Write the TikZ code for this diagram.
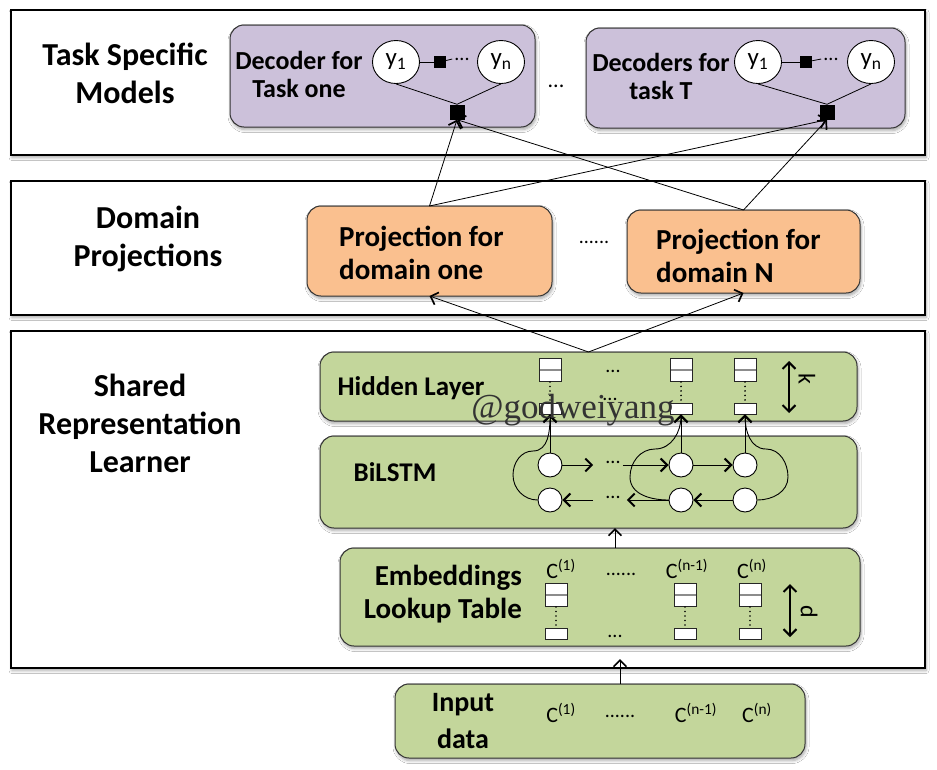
\documentclass[tikz,border=0pt]{standalone}
\usepackage{fontspec}
\setmainfont{Carlito}
\newfontfamily\markfont{Liberation Serif}
\usetikzlibrary{arrows.meta,shadows.blur,shapes.geometric,calc}

\definecolor{lavender}{RGB}{204,193,218}
\definecolor{peach}{RGB}{250,192,143}
\definecolor{sage}{RGB}{195,214,155}

\newcommand\sidefont{\bfseries\fontsize{32}{38}\selectfont}
\newcommand\inboxfont{\bfseries\fontsize{27}{29}\selectfont}
\newcommand\symfont{\fontsize{22}{24}\selectfont}
\newcommand\ysymfont{\fontsize{25}{26}\selectfont}
\newcommand\dotfont{\fontsize{20}{22}\selectfont}

\tikzset{
  softshadow/.style={blur shadow={shadow xshift=1pt, shadow yshift=-2.5pt,
      shadow blur radius=3pt, shadow blur steps=6, shadow opacity=35}},
  panel/.style={rectangle, draw=black, line width=1.6pt, fill=white,
      inner sep=0pt, outer sep=0pt, softshadow},
  roundbox/.style={rectangle, draw=black!80, line width=1pt, rounded corners=14pt,
      inner sep=0pt, outer sep=0pt, softshadow},
  label/.style={font=\inboxfont, align=center, inner sep=0pt},
  sidelabel/.style={font=\sidefont, align=center, inner sep=0pt},
  sym/.style={font=\symfont, inner sep=1pt},
  dotsnode/.style={font=\dotfont, inner sep=2pt},
  ycirc/.style={ellipse, draw=black, line width=0.9pt, fill=white,
      minimum width=47pt, minimum height=43pt, inner sep=0pt, font=\ysymfont},
  factor/.style={rectangle, fill=black, minimum size=12pt, inner sep=0pt},
  bigfactor/.style={rectangle, fill=black, minimum size=15pt, inner sep=0pt},
  cell/.style={circle, draw=black, line width=0.9pt, fill=white,
      minimum size=24pt, inner sep=0pt},
  vtop/.style={rectangle, draw=black!85, line width=0.8pt, fill=white,
      minimum width=22pt, minimum height=23pt, inner sep=0pt,
      path picture={\draw[black!45, line width=1.4pt]
        (path picture bounding box.west) -- (path picture bounding box.east);}},
  vbot/.style={rectangle, draw=black!85, line width=0.8pt, fill=white,
      minimum width=22pt, minimum height=11pt, inner sep=0pt},
  vdots/.style={line width=1.8pt, line cap=round, dash pattern=on 0pt off 4.5pt},
  link/.style={line width=0.8pt},
  arr/.style={line width=0.8pt,
      -{Straight Barb[length=6.5pt, width=13pt, line width=1.7pt]}},
  sarr/.style={line width=0.9pt,
      -{Straight Barb[length=6.5pt, width=13pt, line width=2pt]}},
  dbl/.style={line width=2pt,
      {Straight Barb[length=6.5pt, width=13pt, line width=2pt]}-{Straight Barb[length=6.5pt, width=13pt, line width=2pt]}},
}

\begin{document}
\begin{tikzpicture}[x=1pt, y=-1pt]
\useasboundingbox[fill=white] (0,0) rectangle (937,769);

% ---------- three layer panels ----------
\node[panel, minimum width=914pt, minimum height=145pt] (ptask) at (468,82.5) {};
\node[panel, minimum width=914pt, minimum height=134pt] (pdom) at (468,248) {};
\node[panel, minimum width=914pt, minimum height=337pt] (pshared) at (468,499.5) {};

\node[sidelabel] (ltask) at (125,73) {Task Specific\\Models};
\node[sidelabel] (ldom) at (148,239) {Domain\\Projections};
\node[sidelabel] (lshared) at (140,423) {Shared\\Representation\\Learner};

% ---------- task specific decoders ----------
\node[roundbox, fill=lavender, minimum width=305pt, minimum height=102pt] (dec1) at (382.5,76) {};
\node[roundbox, fill=lavender, minimum width=319pt, minimum height=100pt] (dec2) at (745.5,78) {};
\node[sym] (decdots) at (556,86) {...};

\node[label, font=\bfseries\fontsize{26}{28}\selectfont] (dec1txt) at (299,74) {Decoder for\\Task one};
\node[ycirc] (d1y1) at (396,62) {y\textsubscript{1}};
\node[ycirc] (d1yn) at (501,62) {y\textsubscript{n}};
\node[factor] (d1s) at (440,62) {};
\node[dotsnode] (d1d) at (462,59) {...};
\node[bigfactor] (d1f) at (457,112) {};
\draw[link] (d1y1) -- (d1s);
\draw[link] (d1s) -- (d1d.west);
\draw[link] (d1y1.south) -- (d1f.north);
\draw[link] (d1yn.south) -- (d1f.north);

\node[label, font=\bfseries\fontsize{26}{28}\selectfont] (dec2txt) at (661,76) {Decoders for\\task T};
\node[ycirc] (d2y1) at (758,62) {y\textsubscript{1}};
\node[ycirc] (d2yn) at (871,62) {y\textsubscript{n}};
\node[factor] (d2s) at (806,62) {};
\node[dotsnode] (d2d) at (831,59) {...};
\node[bigfactor] (d2f) at (827,112) {};
\draw[link] (d2y1) -- (d2s);
\draw[link] (d2s) -- (d2d.west);
\draw[link] (d2y1.south) -- (d2f.north);
\draw[link] (d2yn.south) -- (d2f.north);

% ---------- domain projections ----------
\node[roundbox, fill=peach, minimum width=245pt, minimum height=90pt] (pr1) at (429.5,251) {};
\node[roundbox, fill=peach, minimum width=233pt, minimum height=83pt] (pr2) at (743.5,251.5) {};
\node[label, anchor=west, align=left, font=\bfseries\fontsize{29}{33}\selectfont] (pr1txt) at (339,253) {Projection for\\domain one};
\node[label, anchor=west, align=left, font=\bfseries\fontsize{29}{33}\selectfont] (pr2txt) at (656,256) {Projection for\\domain N};
\node[dotsnode] (prdots) at (594,242) {......};

% ---------- hidden layer ----------
\node[roundbox, fill=sage, minimum width=537pt, minimum height=69pt] (hid) at (588.5,386.5) {};
\node[label] (hidtxt) at (411,388) {Hidden Layer};
\foreach \i/\x in {1/550,2/681,3/745}{
  \node[vtop] (ht\i) at (\x,370) {};
  \node[vbot] (hb\i) at (\x,408.5) {};
  \draw[vdots] (ht\i.south) -- (hb\i.north);
}
\node[dotsnode] (hdots) at (613,371) {...};
\node[dotsnode] (hdotsb) at (610,399) {...};
\coordinate (ktop) at (789,361);
\coordinate (kbot) at (789,413);
\draw[dbl] (ktop) -- (kbot);
\node[sym, rotate=-90, font=\fontsize{24}{24}\selectfont] (klabel) at (807,379) {k};

% ---------- BiLSTM ----------
\node[roundbox, fill=sage, minimum width=537pt, minimum height=92pt] (bil) at (588.5,482) {};
\node[label] (biltxt) at (395,472) {BiLSTM};
\node[cell] (f1) at (550,465) {};
\node[cell] (f2) at (681,465) {};
\node[cell] (f3) at (745,465) {};
\node[cell] (b1) at (550,500) {};
\node[cell] (b2) at (681,500) {};
\node[cell] (b3) at (745,500) {};
\node[dotsnode] (fdots) at (613,462) {...};
\node[dotsnode] (bdots) at (613,497) {...};

\draw[sarr, shorten >=10pt] (f1) -- (fdots.west |- f1);
\draw[sarr] (fdots.east |- f2) -- (f2);
\draw[sarr] (f2) -- (f3);
\draw[sarr] (b3) -- (b2);
\draw[sarr, shorten >=4pt] (b2) -- (bdots.east |- b2);
\draw[sarr, shorten <=10pt] (bdots.west |- b1) -- (b1);

\draw[sarr] (f1) -- (hb1);
\draw[sarr] (f2) -- (hb2);
\draw[sarr] (f3) -- (hb3);
\draw[sarr] (b1.west) to[out=180,in=270] (513,475) to[out=90,in=180] (533,451)
      to[out=0,in=270] (hb1.south);
\draw[sarr] (b2.west) to[out=180,in=270] (630,477) to[out=90,in=180] (655,449)
      to[out=0,in=270] (hb2.south);
\draw[sarr] (b3.east) to[out=0,in=270] (788,477) to[out=90,in=0] (766,449)
      to[out=180,in=270] (hb3.south);

% ---------- embeddings lookup table ----------
\node[roundbox, fill=sage, minimum width=520pt, minimum height=98pt] (emb) at (600,597) {};
\node[label, anchor=east, align=right, font=\bfseries\fontsize{29}{33}\selectfont] (embtxt) at (522,594) {Embeddings\\Lookup Table};
\node[sym] (ec1) at (561,569) {C\textsuperscript{(1)}};
\node[dotsnode] (etop) at (621,574) {......};
\node[sym] (ecm) at (687,569) {C\textsuperscript{(n-1)}};
\node[sym] (ecn) at (752,569) {C\textsuperscript{(n)}};
\foreach \i/\x in {1/556,2/685,3/750}{
  \node[vtop] (et\i) at (\x,595) {};
  \node[vbot] (eb\i) at (\x,634) {};
  \draw[vdots] (et\i.south) -- (eb\i.north);
}
\node[dotsnode] (edots) at (615,636) {...};
\coordinate (dtop) at (790,584);
\coordinate (dbot) at (790,637);
\draw[dbl] (dtop) -- (dbot);
\node[sym, rotate=-90, font=\fontsize{24}{24}\selectfont] (dlabel) at (809,612) {d};

% ---------- input data ----------
\node[roundbox, fill=sage, minimum width=410pt, minimum height=74pt] (inp) at (600,721) {};
\node[label, font=\bfseries\fontsize{28}{37}\selectfont] (inptxt) at (463,721) {Input\\data};
\node[sym] (ic1) at (561,713) {C\textsuperscript{(1)}};
\node[dotsnode] (idots) at (620,716) {......};
\node[sym] (icm) at (696,713) {C\textsuperscript{(n-1)}};
\node[sym] (icn) at (757,713) {C\textsuperscript{(n)}};

% ---------- connectors between layers ----------
\coordinate (embin) at (620,659);
\draw[arr] (idots.center |- inp.north) -- (embin);
\draw[arr] (edots.center |- emb.north) -- (edots.center |- bil.south);
\draw[arr] (hid.north) -- (pr1.south);
\draw[arr] (hid.north) -- (pr2.south);
\draw[arr] (pr1.north) -- (d1f.south);
\draw[arr] (pr1.north) -- (d2f.south);
\draw[arr] (pr2.north) -- (d1f.south);
\draw[arr] (pr2.north) -- (d2f.south);

% ---------- signature ----------
\node[font=\markfont\fontsize{35}{35}\selectfont, text=black!80, inner sep=0pt] (sig) at (573,410) {@godweiyang};
\end{tikzpicture}
\end{document}
